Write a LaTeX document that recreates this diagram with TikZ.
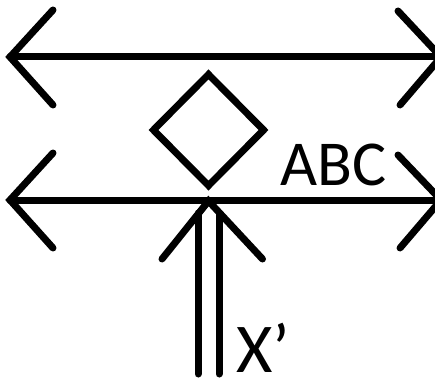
\documentclass[tikz,border=0pt]{standalone}
\usepackage{fontspec}
\setmainfont{Carlito}
\usetikzlibrary{shapes.geometric,calc}
\tikzset{
  stroke/.style={line width=7pt, line cap=round, line join=miter},
  lbl/.style={inner sep=0pt, anchor=base west, text depth=0pt},
}
\begin{document}
\begin{tikzpicture}[x=1pt,y=-1pt]
\useasboundingbox (0,0) rectangle (435,379);
% coordinates
\coordinate (t1) at (10,57);
\coordinate (t2) at (441,57);
\coordinate (b1) at (10,200);
\coordinate (b2) at (441,200);
\coordinate (up) at (208.5,201);
\coordinate (l1) at (198,374);
\coordinate (l2) at (219,374);
% top double arrow
\draw[stroke] (t1) -- (t2);
\draw[stroke] ($(t1)+(43,-47)$) -- (t1) -- ($(t1)+(43,48)$);
\draw[stroke] ($(t2)+(-43,-46)$) -- (t2) -- ($(t2)+(-41,48)$);
% lower double arrow
\draw[stroke] (b1) -- (b2);
\draw[stroke] ($(b1)+(43,-47)$) -- (b1) -- ($(b1)+(43,48)$);
\draw[stroke] ($(b2)+(-43,-45)$) -- (b2) -- ($(b2)+(-41,48)$);
% diamond
\node[draw, stroke, diamond, aspect=1, minimum width=113pt, minimum height=114pt, inner sep=0pt] (dia) at (208.5,130) {};
% vertical double-line arrow
\draw[stroke] (l1) -- ($(l1|-up)+(0,12)$);
\draw[stroke] (l2) -- ($(l2|-up)+(0,12)$);
\draw[stroke] ($(up)+(-46.5,58)$) -- (up) -- ($(up)+(54,58)$);
% labels
\node[lbl, font=\fontsize{64}{64}\selectfont] (abc) at (280,185) {ABC};
\node[lbl, font=\fontsize{70}{70}\selectfont] (xp) at (236,372) {X’};
\end{tikzpicture}
\end{document}
